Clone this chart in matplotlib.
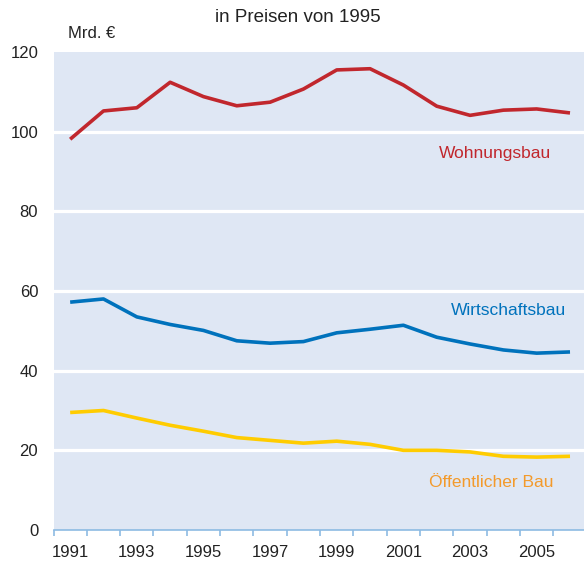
import numpy as np
import matplotlib
import matplotlib.pyplot as plt

matplotlib.use("agg")

# data (Mrd. EUR, in Preisen von 1995)
years = list(range(1991, 2007))
wohnungsbau = [98.1, 105.2, 106.0, 112.4, 108.8, 106.5, 107.4, 110.7,
               115.5, 115.8, 111.7, 106.4, 104.1, 105.4, 105.7, 104.7]
wirtschaftsbau = [57.2, 58.0, 53.5, 51.6, 50.1, 47.5, 46.9, 47.3,
                  49.5, 50.4, 51.4, 48.4, 46.7, 45.2, 44.4, 44.7]
oeffentlich = [29.5, 30.0, 28.1, 26.3, 24.8, 23.2, 22.5, 21.8,
               22.3, 21.5, 20.0, 20.0, 19.6, 18.5, 18.3, 18.5]
year_labels = list(range(1991, 2006, 2))
y_ticks = [0, 20, 40, 60, 80, 100, 120]

plt.rcParams["font.family"] = ["Liberation Sans", "DejaVu Sans"]

fig = plt.figure(figsize=(5.84, 5.62), dpi=100)
ax = fig.add_axes([53.5 / 584, 32 / 562, 1 - 53.5 / 584, (530 - 52) / 562])

bg = "#dfe7f4"
ax.set_facecolor(bg)
ax.set_ylim(0, 120)
ax.set_xlim(1990.5, 2006.42)

# white gridlines
for y in y_ticks[1:-1]:
    ax.axhline(y, color="white", lw=2.3, zorder=1)

ax.plot(years, wohnungsbau, color="#c1272d", lw=2.6, zorder=3, solid_capstyle="butt")
ax.plot(years, wirtschaftsbau, color="#0072bc", lw=2.6, zorder=3, solid_capstyle="butt")
ax.plot(years, oeffentlich, color="#ffcc00", lw=2.6, zorder=3, solid_capstyle="butt")

# series labels
ax.text(2003.76, 94.4, "Wohnungsbau", color="#c1272d", fontsize=12.5, ha="center", va="center")
ax.text(2004.15, 55.2, "Wirtschaftsbau", color="#0072bc", fontsize=12.5, ha="center", va="center")
ax.text(2003.64, 12.0, "Öffentlicher Bau", color="#f39a2b", fontsize=12.5, ha="center", va="center")

# axes styling
for s in ["top", "right", "left"]:
    ax.spines[s].set_visible(False)
ax.spines["bottom"].set_color("#8dbbe3")
ax.spines["bottom"].set_linewidth(1.2)

ax.set_yticks(y_ticks)
ax.set_yticklabels([str(v) for v in y_ticks])
ax.tick_params(axis="y", length=0, pad=11, labelsize=12, labelcolor="#222222")

ax.set_xticks(np.arange(1990.5, 2006.5, 1))
ax.set_xticklabels([])
ax.tick_params(axis="x", which="major", length=4, width=1.2, color="#8dbbe3", direction="out")
ax.set_xticks(year_labels, minor=True)
ax.set_xticklabels([str(y) for y in year_labels], minor=True)
ax.tick_params(axis="x", which="minor", length=0, pad=11, labelsize=12, labelcolor="#222222")

fig.text(298 / 584, 1 - 17 / 562, "in Preisen von 1995", fontsize=13.5, ha="center", va="center",
         color="#222222")
fig.text(68 / 584, 1 - 33 / 562, "Mrd. €", fontsize=12, ha="left", va="center", color="#222222")

fig.savefig("out.png", dpi=100)
